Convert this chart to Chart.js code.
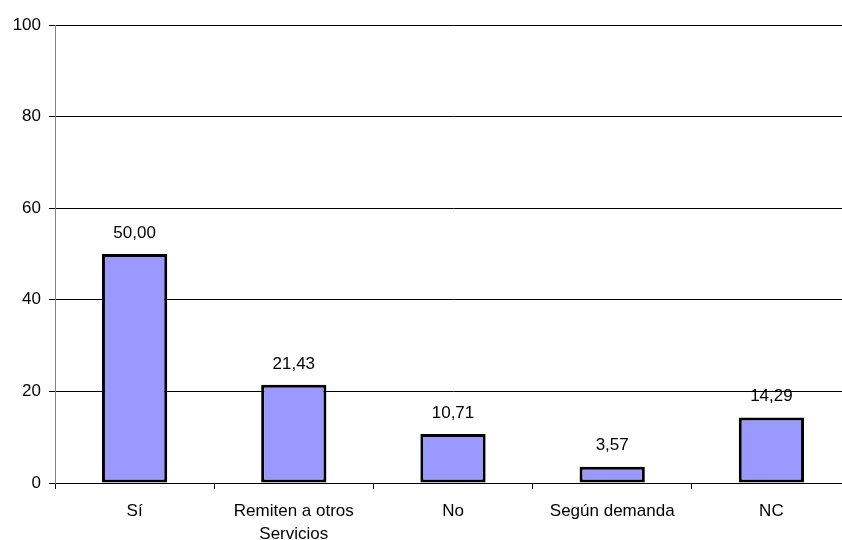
<html>
    <head>
        <meta charset="utf-8">
        <title>Servicios</title>
        <script src="https://cdn.jsdelivr.net/npm/chart.js/dist/chart.umd.min.js"></script>
        <style>
            body { margin: 0; overflow: hidden; background: #fff; }
            #wrap { width: 851px; height: 540px; position: relative; }
        </style>
    </head>
    <body>
        <div id="wrap"><canvas id="myChart"></canvas></div>
        <script>
            var categories = ["Sí", ["Remiten a otros", "Servicios"], "No", "Según demanda", "NC"];
            var values = [50.00, 21.43, 10.71, 3.57, 14.29];
            var yTicks = [0, 20, 40, 60, 80, 100];

            var fontFamily = "'Liberation Sans', Arial, sans-serif";

            const valueLabels = {
                id: 'valueLabels',
                afterDatasetsDraw(chart) {
                    var ctx = chart.ctx;
                    var meta = chart.getDatasetMeta(0);
                    ctx.save();
                    ctx.font = "17px " + fontFamily;
                    ctx.fillStyle = "#000";
                    ctx.textAlign = "center";
                    ctx.textBaseline = "middle";
                    meta.data.forEach((bar, i) => {
                        var p = bar.getProps(['x', 'y'], true);
                        ctx.fillText(values[i].toFixed(2).replace('.', ','), p.x, p.y - 21);
                    });
                    ctx.restore();
                }
            };

            const ctx = document.getElementById('myChart').getContext('2d');
            const myChart = new Chart(ctx, {
                type: 'bar',
                data: {
                    labels: categories,
                    datasets: [{
                        data: values,
                        backgroundColor: '#9999FF',
                        borderColor: '#000000',
                        borderWidth: 3,
                        borderSkipped: false,
                        categoryPercentage: 1,
                        barPercentage: 0.41,
                    }],
                },
                options: {
                    responsive: true,
                    maintainAspectRatio: false,
                    animation: false,
                    layout: { padding: { top: 25, right: 0, left: 0, bottom: 0 } },
                    plugins: {
                        legend: { display: false },
                        tooltip: { enabled: false },
                    },
                    scales: {
                        x: {
                            grid: {
                                offset: true,
                                drawOnChartArea: false,
                                color: '#000',
                                tickLength: 6,
                            },
                            border: { color: '#000' },
                            ticks: {
                                color: '#000',
                                font: { family: fontFamily, size: 17, lineHeight: 1.35 },
                                padding: 11,
                                maxRotation: 0,
                                autoSkip: false,
                            },
                            afterFit(scale) { scale.height = 57; },
                        },
                        y: {
                            min: 0,
                            max: 100,
                            afterBuildTicks(scale) { scale.ticks = yTicks.map(v => ({ value: v })); },
                            grid: {
                                color: '#000',
                                tickLength: 6,
                            },
                            border: { color: '#808080' },
                            ticks: {
                                color: '#000',
                                font: { family: fontFamily, size: 17 },
                                padding: 8,
                            },
                            afterFit(scale) { scale.width = 55; },
                        },
                    },
                },
                plugins: [valueLabels],
            });
        </script>
    </body>
</html>
